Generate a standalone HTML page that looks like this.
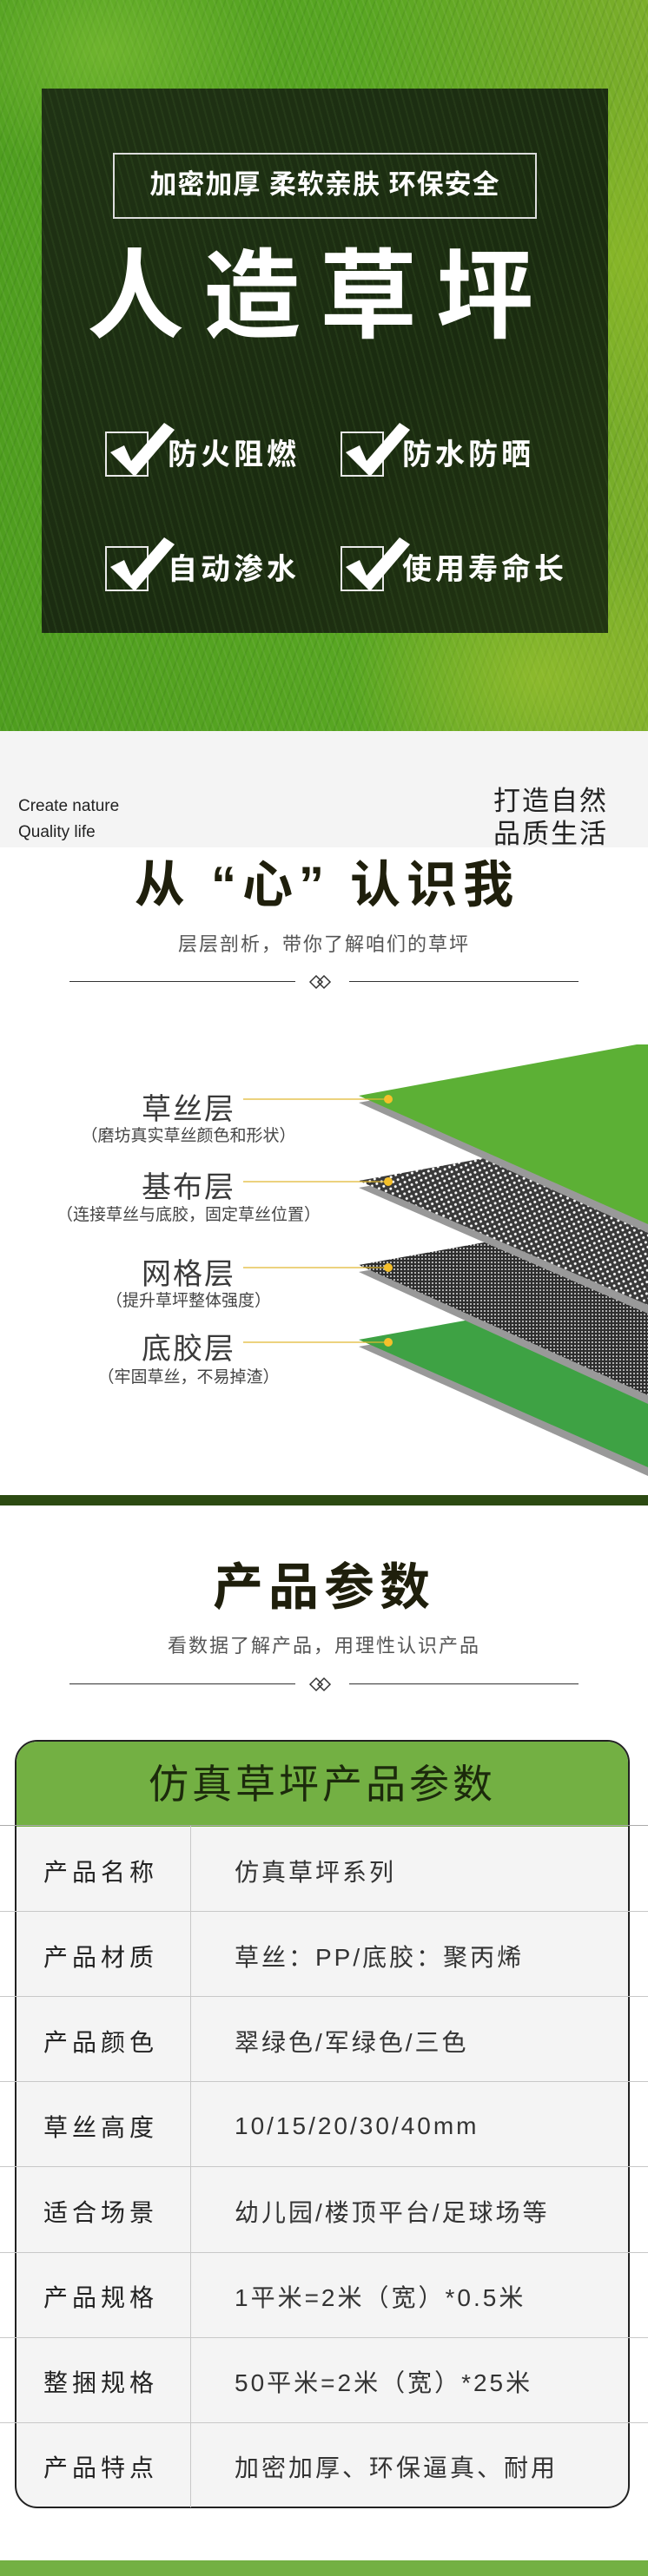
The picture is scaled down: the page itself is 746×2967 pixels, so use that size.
<!DOCTYPE html>
<html><head><meta charset="utf-8">
<style>
*{margin:0;padding:0;box-sizing:border-box}
body{width:746px;height:2967px;background:#fff;position:relative;overflow:hidden;font-family:"Liberation Sans","Noto Sans CJK SC",sans-serif}
.abs{position:absolute}
#grass{left:0;top:0;width:746px;height:842px;
background:
radial-gradient(ellipse 200px 140px at 120px 60px,rgba(140,200,60,.5),transparent),
radial-gradient(ellipse 220px 160px at 620px 780px,rgba(170,200,50,.5),transparent),
radial-gradient(ellipse 180px 200px at 720px 300px,rgba(150,190,40,.5),transparent),
repeating-linear-gradient(70deg,rgba(255,255,255,.06) 0 2px,transparent 2px 7px),
repeating-linear-gradient(110deg,rgba(0,40,0,.08) 0 2px,transparent 2px 9px),
linear-gradient(90deg,#4f9e1f 0%,#58a622 55%,#7cae2a 100%);}
#box{left:48px;top:102px;width:652px;height:627px;background:
repeating-linear-gradient(75deg,rgba(60,90,40,.25) 0 2px,transparent 2px 8px),
linear-gradient(135deg,#1f3214,#1a2b10 60%,#223512);}
.w{color:#fff;font-weight:bold;white-space:nowrap}
.chk{position:absolute;width:50px;height:52px;border:2px solid #e8e8e8}
.chk svg{position:absolute;left:0;top:-12px;overflow:visible}
.lbl{position:absolute;text-align:center;width:420px;left:7px;color:#3a3a3a;white-space:nowrap}
.big{font-size:34px;letter-spacing:2px;color:#3a3a3a}
.sub{font-size:19px;color:#444}
.row{position:absolute;left:0;width:746px;height:1px;background:#c8c8c8}
.lab{position:absolute;left:50px;font-size:28px;letter-spacing:5px;color:#222;white-space:nowrap}
.val{position:absolute;left:270px;font-size:28px;letter-spacing:3px;color:#333;white-space:nowrap}
</style></head><body>

<div id="grass" class="abs"></div>
<div id="box" class="abs"></div>
<div class="abs" style="left:130px;top:176px;width:488px;height:76px;border:2px solid #ddd"></div>
<div class="abs w" style="left:130px;top:176px;width:488px;height:76px;line-height:74px;text-align:center;font-size:31px;letter-spacing:1px">加密加厚 柔软亲肤 环保安全</div>
<div class="abs w" style="left:100px;top:272px;width:530px;text-align:center;font-size:112px;line-height:140px;letter-spacing:22px">人造草坪</div>

<div class="chk" style="left:121px;top:497px"><svg width="70" height="60"><path d="M4 34 L20 26 L28 44 L66 0 L78 8 L32 62 Z" fill="#fff"/></svg></div>
<div class="abs w" style="left:193px;top:500px;font-size:34px;letter-spacing:4px;line-height:48px">防火阻燃</div>
<div class="chk" style="left:392px;top:497px"><svg width="70" height="60"><path d="M4 34 L20 26 L28 44 L66 0 L78 8 L32 62 Z" fill="#fff"/></svg></div>
<div class="abs w" style="left:463px;top:500px;font-size:34px;letter-spacing:4px;line-height:48px">防水防晒</div>
<div class="chk" style="left:121px;top:629px"><svg width="70" height="60"><path d="M4 34 L20 26 L28 44 L66 0 L78 8 L32 62 Z" fill="#fff"/></svg></div>
<div class="abs w" style="left:193px;top:632px;font-size:34px;letter-spacing:4px;line-height:48px">自动渗水</div>
<div class="chk" style="left:392px;top:629px"><svg width="70" height="60"><path d="M4 34 L20 26 L28 44 L66 0 L78 8 L32 62 Z" fill="#fff"/></svg></div>
<div class="abs w" style="left:463px;top:632px;font-size:34px;letter-spacing:4px;line-height:48px">使用寿命长</div>

<div class="abs" style="left:0;top:842px;width:746px;height:134px;background:#f4f4f4"></div>
<div class="abs" style="left:21px;top:914px;font-size:19px;line-height:30px;color:#222">Create nature<br>Quality life</div>
<div class="abs" style="left:0;top:842px;width:746px;height:134px;overflow:hidden">
<div class="abs" style="left:568px;top:62px;font-size:31px;line-height:38px;color:#222;letter-spacing:2px">打造自然<br>品质生活</div></div>

<div class="abs" style="left:0;top:985px;width:746px;text-align:center;font-size:58px;font-weight:bold;color:#1f1f0c;line-height:70px;letter-spacing:7px;padding-left:7px">从 “心” 认识我</div>
<div class="abs" style="left:0;top:1070px;width:746px;text-align:center;font-size:22px;color:#555;letter-spacing:2px">层层剖析，带你了解咱们的草坪</div>
<div class="abs" style="left:80px;top:1130px;width:260px;height:1px;background:#333"></div>
<div class="abs" style="left:402px;top:1130px;width:264px;height:1px;background:#333"></div>
<svg class="abs" style="left:355px;top:1122px" width="36" height="18"><path d="M2 9 L9 2 L16 9 L9 16Z M11 9 L18 2 L25 9 L18 16Z" fill="none" stroke="#333" stroke-width="1.5"/></svg>

<svg class="abs" style="left:0;top:1180px" width="746" height="540">
<defs>
<pattern id="dots" width="6" height="6" patternUnits="userSpaceOnUse" patternTransform="rotate(-25)"><rect width="6" height="6" fill="#3a3a3a"/><circle cx="3" cy="3" r="1.5" fill="#fff"/></pattern>
<pattern id="mesh" width="4" height="4" patternUnits="userSpaceOnUse"><rect width="4" height="4" fill="#2e2e2e"/><circle cx="2" cy="2" r="1" fill="#ddd"/></pattern>
</defs>
<g transform="translate(0,-1180)">
<polygon points="413,1551 746,1491 746,1700" fill="#999"/>
<polygon points="413,1543 746,1483 746,1690" fill="#3ea244"/>
<polygon points="413,1465 746,1405 746,1617" fill="#999"/>
<polygon points="413,1457 746,1397 746,1607" fill="url(#mesh)"/>
<polygon points="413,1368 746,1308 746,1513" fill="#999"/>
<polygon points="413,1360 746,1300 746,1503" fill="url(#dots)"/>
<polygon points="413,1270 733,1211 746,1211 746,1420" fill="#999"/>
<polygon points="413,1262 733,1203 746,1203 746,1410" fill="#5cb035"/>
<g stroke="#e0b830" stroke-width="1.2">
<line x1="280" y1="1266" x2="447" y2="1266"/><line x1="280" y1="1361" x2="447" y2="1361"/>
<line x1="280" y1="1460" x2="447" y2="1460"/><line x1="280" y1="1546" x2="447" y2="1546"/></g>
<g fill="#f5c02a"><circle cx="447" cy="1266" r="5"/><circle cx="447" cy="1361" r="5"/><circle cx="447" cy="1460" r="5"/><circle cx="447" cy="1546" r="5"/></g>
</g></svg>

<div class="lbl big" style="top:1250px">草丝层</div>
<div class="lbl sub" style="top:1293px">（磨坊真实草丝颜色和形状）</div>
<div class="lbl big" style="top:1340px">基布层</div>
<div class="lbl sub" style="top:1384px">（连接草丝与底胶，固定草丝位置）</div>
<div class="lbl big" style="top:1440px">网格层</div>
<div class="lbl sub" style="top:1483px">（提升草坪整体强度）</div>
<div class="lbl big" style="top:1526px">底胶层</div>
<div class="lbl sub" style="top:1571px">（牢固草丝，不易掉渣）</div>

<div class="abs" style="left:0;top:1722px;width:746px;height:12px;background:#2c4a12"></div>

<div class="abs" style="left:0;top:1794px;width:746px;text-align:center;font-size:58px;font-weight:bold;color:#1f1f0c;line-height:70px;letter-spacing:6px">产品参数</div>
<div class="abs" style="left:0;top:1878px;width:746px;text-align:center;font-size:22px;color:#555;letter-spacing:2px">看数据了解产品，用理性认识产品</div>
<div class="abs" style="left:80px;top:1939px;width:260px;height:1px;background:#333"></div>
<div class="abs" style="left:402px;top:1939px;width:264px;height:1px;background:#333"></div>
<svg class="abs" style="left:355px;top:1931px" width="36" height="18"><path d="M2 9 L9 2 L16 9 L9 16Z M11 9 L18 2 L25 9 L18 16Z" fill="none" stroke="#333" stroke-width="1.5"/></svg>

<div class="abs" style="left:17px;top:2004px;width:708px;height:885px;border:2px solid #222;border-radius:26px;background:#f4f4f4;overflow:hidden">
<div style="height:98px;background:#73b043;text-align:center;font-size:46px;line-height:98px;color:#1c2a0c;letter-spacing:4px">仿真草坪产品参数</div>
</div>
<div class="row" style="top:2102px;background:#aaa"></div>
<div class="row" style="top:2201px"></div><div class="row" style="top:2299px"></div>
<div class="row" style="top:2397px"></div><div class="row" style="top:2495px"></div>
<div class="row" style="top:2594px"></div><div class="row" style="top:2692px"></div>
<div class="row" style="top:2790px"></div>
<div class="abs" style="left:219px;top:2103px;width:1px;height:785px;background:#c8c8c8"></div>

<div class="lab" style="top:2135px">产品名称</div><div class="val" style="top:2135px">仿真草坪系列</div>
<div class="lab" style="top:2233px">产品材质</div><div class="val" style="top:2233px">草丝：PP/底胶：聚丙烯</div>
<div class="lab" style="top:2331px">产品颜色</div><div class="val" style="top:2331px">翠绿色/军绿色/三色</div>
<div class="lab" style="top:2429px">草丝高度</div><div class="val" style="top:2433px">10/15/20/30/40mm</div>
<div class="lab" style="top:2527px">适合场景</div><div class="val" style="top:2527px">幼儿园/楼顶平台/足球场等</div>
<div class="lab" style="top:2625px">产品规格</div><div class="val" style="top:2625px">1平米=2米（宽）*0.5米</div>
<div class="lab" style="top:2723px">整捆规格</div><div class="val" style="top:2723px">50平米=2米（宽）*25米</div>
<div class="lab" style="top:2821px">产品特点</div><div class="val" style="top:2821px">加密加厚、环保逼真、耐用</div>

<div class="abs" style="left:0;top:2949px;width:746px;height:18px;background:#73b043"></div>
</body></html>
